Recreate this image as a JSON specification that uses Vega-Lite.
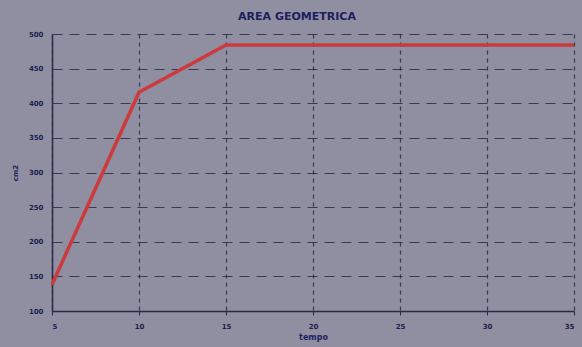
{
  "$schema": "https://vega.github.io/schema/vega-lite/v6.json",
  "autosize": "none",
  "width": 522,
  "height": 277,
  "padding": {"left": 52, "top": 34, "right": 8, "bottom": 36},
  "background": "#8f8fa1",
  "config": {
    "view": {"stroke": null, "fill": "#8f8fa1"},
    "font": "DejaVu Sans"
  },
  "title": {
    "text": "AREA GEOMETRICA",
    "fontSize": 11,
    "fontWeight": "bold",
    "color": "#1e1e60",
    "anchor": "middle",
    "dx": -16,
    "offset": 8
  },
  "data": {
    "values": [
      {"x": 5, "y": 138},
      {"x": 10, "y": 416},
      {"x": 15, "y": 484},
      {"x": 20, "y": 484},
      {"x": 25, "y": 484},
      {"x": 30, "y": 484},
      {"x": 35, "y": 484}
    ]
  },
  "mark": {"type": "line", "color": "#cc3a3c", "strokeWidth": 3.5},
  "encoding": {
    "x": {
      "field": "x",
      "type": "quantitative",
      "scale": {"domain": [5, 35], "nice": false},
      "axis": {
        "values": [5, 10, 15, 20, 25, 30, 35],
        "title": "tempo",
        "titleFontSize": 8,
        "titleFontWeight": "bold",
        "titleColor": "#1e1e60",
        "titlePadding": 4,
        "labelFontSize": 7,
        "labelFontWeight": "bold",
        "labelColor": "#1e1e50",
        "labelPadding": 7,
        "domainColor": "#2a2a44",
        "domainWidth": 1.5,
        "tickColor": "#2a2a44",
        "tickSize": 4,
        "grid": true,
        "gridColor": "#2a2a44",
        "gridDash": [4, 4],
        "gridWidth": 1.2,
        "gridOpacity": 0.85
      }
    },
    "y": {
      "field": "y",
      "type": "quantitative",
      "scale": {"domain": [100, 500], "nice": false},
      "axis": {
        "values": [100, 150, 200, 250, 300, 350, 400, 450, 500],
        "title": "cm2",
        "titleFontSize": 7,
        "titleFontWeight": "bold",
        "titleColor": "#1e1e60",
        "titlePadding": 10,
        "labelFontSize": 7,
        "labelFontWeight": "bold",
        "labelColor": "#1e1e50",
        "labelPadding": 9,
        "domainColor": "#2a2a44",
        "domainWidth": 1.5,
        "ticks": false,
        "grid": true,
        "gridColor": "#2a2a44",
        "gridDash": [10, 7],
        "gridWidth": 1.2,
        "gridOpacity": 0.85
      }
    }
  }
}
